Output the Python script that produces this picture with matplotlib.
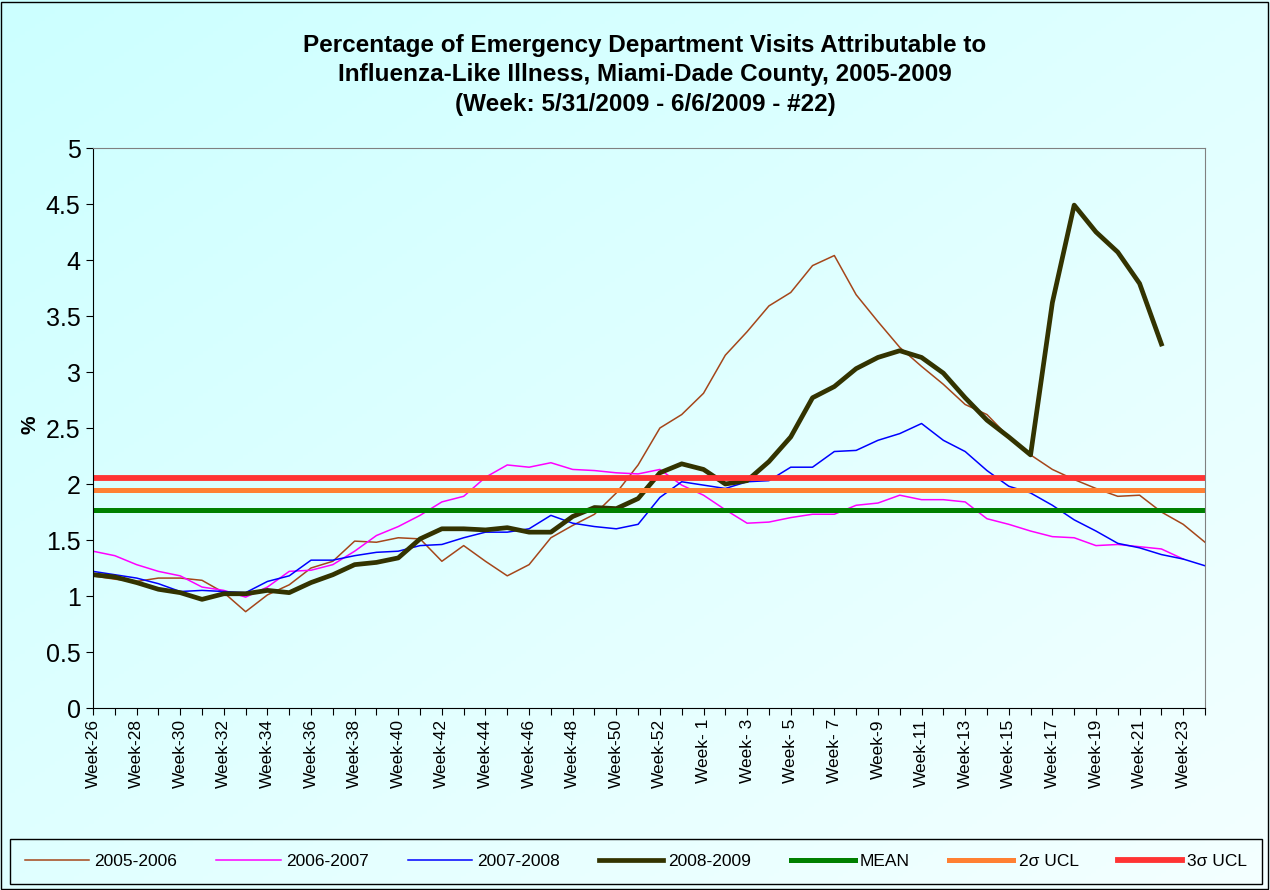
import numpy as np
import matplotlib.pyplot as plt
from matplotlib.colors import LinearSegmentedColormap
from matplotlib.patches import Rectangle

plt.rcParams['font.family'] = ['Liberation Sans', 'DejaVu Sans']

# MMWR weeks, season runs week 26 -> week 24 (2008 had a week 53)
weeks = [f"Week-{w}" for w in range(26, 54)] + \
        [f"Week- {w}" if w < 8 else f"Week-{w}" for w in range(1, 25)]

s2005_2006 = [1.18, 1.15, 1.13, 1.16, 1.16, 1.14, 1.03, 0.86, 1.01, 1.10, 1.25, 1.31, 1.49,
              1.48, 1.52, 1.51, 1.31, 1.45, 1.31, 1.18, 1.28, 1.52, 1.63, 1.73, 1.92, 2.17,
              2.50, 2.62, 2.81, 3.15, 3.36, 3.59, 3.71, 3.95, 4.04, 3.69, 3.45, 3.22, 3.05,
              2.89, 2.71, 2.62, 2.42, 2.26, 2.13, 2.04, 1.96, 1.89, 1.90, 1.75, 1.64, 1.48]
s2006_2007 = [1.40, 1.36, 1.28, 1.22, 1.18, 1.08, 1.05, 0.99, 1.08, 1.22, 1.23, 1.28, 1.40,
              1.54, 1.62, 1.72, 1.84, 1.89, 2.06, 2.17, 2.15, 2.19, 2.13, 2.12, 2.10, 2.09,
              2.13, 1.99, 1.90, 1.77, 1.65, 1.66, 1.70, 1.73, 1.73, 1.81, 1.83, 1.90, 1.86,
              1.86, 1.84, 1.69, 1.64, 1.58, 1.53, 1.52, 1.45, 1.46, 1.44, 1.42, 1.33, np.nan]
s2007_2008 = [1.22, 1.19, 1.16, 1.11, 1.04, 1.05, 1.04, 1.03, 1.13, 1.18, 1.32, 1.32, 1.36,
              1.39, 1.40, 1.45, 1.46, 1.52, 1.57, 1.57, 1.60, 1.72, 1.65, 1.62, 1.60, 1.64,
              1.88, 2.02, 1.99, 1.96, 2.02, 2.03, 2.15, 2.15, 2.29, 2.30, 2.39, 2.45, 2.54,
              2.39, 2.29, 2.12, 1.98, 1.92, 1.81, 1.68, 1.58, 1.47, 1.43, 1.37, 1.33, 1.27]
s2008_2009 = [1.19, 1.17, 1.12, 1.06, 1.03, 0.97, 1.02, 1.02, 1.05, 1.03, 1.12, 1.19, 1.28,
              1.30, 1.34, 1.51, 1.60, 1.60, 1.59, 1.61, 1.57, 1.57, 1.71, 1.79, 1.78, 1.87,
              2.10, 2.18, 2.13, 2.00, 2.03, 2.20, 2.42, 2.77, 2.87, 3.03, 3.13, 3.19, 3.13,
              2.99, 2.77, 2.57, 2.42, 2.26, 3.62, 4.49, 4.25, 4.07, 3.79, 3.25, np.nan, np.nan]
mean_val = 1.77
ucl_2sigma = 1.95
ucl_3sigma = 2.05

W, H = 1270, 890
fig = plt.figure(figsize=(W / 100, H / 100), dpi=100)

# light cyan gradient background
bg = fig.add_axes([0, 0, 1, 1], zorder=-10)
g = np.linspace(0, 1, 256)
gx, gy = np.meshgrid(g, g)
cmap = LinearSegmentedColormap.from_list('bg', ['#ccffff', '#f4ffff'])
bg.imshow((gx + gy) / 2, cmap=cmap, aspect='auto', extent=[0, 1, 0, 1], origin='upper')
bg.axis('off')

ax = fig.add_axes([93 / W, 182 / H, 1112 / W, 560 / H])
ax.set_facecolor('none')

x = np.arange(len(weeks))
ax.plot(x, s2005_2006, color='#a5461a', lw=1.1, label='2005-2006')
ax.plot(x, s2006_2007, color='#ff00ff', lw=1.1, label='2006-2007')
ax.plot(x, s2007_2008, color='#0000ff', lw=1.1, label='2007-2008')
ax.plot(x, s2008_2009, color='#333300', lw=3.4, label='2008-2009')
ax.axhline(mean_val, color='#008000', lw=3.6, label='MEAN')
ax.axhline(ucl_2sigma, color='#ff8033', lw=3.6, label='2σ UCL')
ax.axhline(ucl_3sigma, color='#ff3333', lw=4.2, label='3σ UCL')

ax.set_xlim(0, len(weeks) - 1)
ax.set_ylim(0, 5)
ax.set_yticks(np.arange(0, 5.01, 0.5))
ax.set_yticklabels(['0', '0.5', '1', '1.5', '2', '2.5', '3', '3.5', '4', '4.5', '5'])
ax.set_xticks(x)
ax.set_xticklabels([w if i % 2 == 0 else '' for i, w in enumerate(weeks)], rotation=90)
ax.tick_params(axis='y', labelsize=18, length=5, direction='out', pad=4)
ax.tick_params(axis='x', labelsize=12.5, length=5, direction='out', pad=3)
for side in ['top', 'right']:
    ax.spines[side].set_color('#808080')
for side in ['left', 'bottom']:
    ax.spines[side].set_color('black')

fig.text(30 / W, 1 - 425 / H, '%', rotation=90, fontsize=15, fontweight='bold',
         ha='center', va='center')

fig.text(645 / W, 1 - 75 / H,
         'Percentage of Emergency Department Visits Attributable to\n'
         'Influenza-Like Illness, Miami-Dade County, 2005-2009\n'
         '(Week: 5/31/2009 - 6/6/2009 - #22)',
         ha='center', va='center', fontsize=17.5, fontweight='bold', linespacing=1.36)

fig.legend(loc='center', bbox_to_anchor=(10 / W, 5 / H, 1252 / W, 47 / H), mode='expand',
           ncol=7, frameon=True, fancybox=False, edgecolor='black', framealpha=1,
           facecolor='none', handlelength=3.7, handletextpad=0.3, fontsize=12.5,
           borderpad=0.85, borderaxespad=0)

fig.patches.append(Rectangle((1 / W, 1 / H), (W - 3) / W, (H - 3) / H, transform=fig.transFigure,
                             fill=False, edgecolor='black', lw=1))

fig.savefig('out.png', dpi=100)
